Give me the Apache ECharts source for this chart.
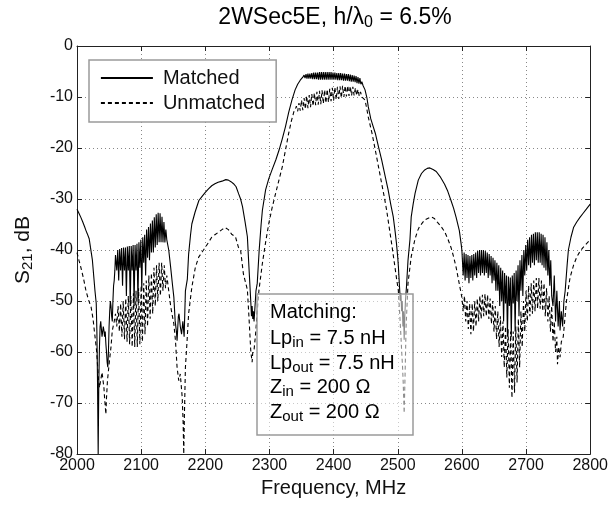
<!DOCTYPE html>
<html><head><meta charset="utf-8">
<script src="https://cdn.jsdelivr.net/npm/echarts@6/dist/echarts.min.js"></script>
<style>html,body{margin:0;padding:0;background:#fff}#c{width:611px;height:508px}</style>
</head><body><div id="c"></div>
<script>
const FONT = '"Liberation Sans", Arial, Helvetica, sans-serif';
const INK = '#111';

const xMin = 2000, xMax = 2800, xStep = 100;
const yMin = -80, yMax = 0, yStep = 10;
const seriesNames = ['Matched', 'Unmatched'];
const titleRich = '{b|2WSec5E, h/λ}{s|0}{b| = 6.5%}';
const yName = '{b|S}{s|21}{b|, dB}';
const xName = 'Frequency, MHz';
const noteLines = [
  '{b|Matching:}',
  '{b|Lp}{s|in}{b| = 7.5 nH}',
  '{b|Lp}{s|out}{b| = 7.5 nH}',
  '{b|Z}{s|in}{b| = 200 Ω}',
  '{b|Z}{s|out}{b| = 200 Ω}'
];

// [frequency MHz, S21 dB]
const matched = [
[2000,-32.0],[2003,-32.8],[2006,-33.6],[2009,-34.5],[2012,-35.5],[2014,-36.2],[2016,-36.8],[2019,-37.8],[2021,-39.5],[2024,-42],
[2026,-45],[2028,-48],[2030,-50.5],[2031,-56],[2032,-66],[2033,-80],[2034,-66],[2035,-59],[2036,-55],[2037,-54],
[2038,-55.5],[2039,-57],[2040,-56],[2041,-55],[2042,-55.8],[2043,-57],[2044,-56],[2045,-58.4],[2046,-60],[2047,-62],
[2048,-63],[2049,-60],[2050,-55],[2051,-52],[2052,-50],[2053,-51],[2054,-53],[2055,-54],[2056,-50],[2057,-47],
[2058,-46],[2059,-44],[2060,-41],
[2062,-44],[2063.5,-40],[2065,-46],[2066.5,-39.8],[2068,-44],[2069.5,-39.6],[2071,-47],[2072.5,-39.5],[2074,-44],[2075.5,-39.5],
[2077,-49],[2078.5,-39.3],[2080,-44],[2081.5,-39.2],[2083,-51],[2084.5,-39.2],[2086,-44],[2087.5,-39],[2089,-51],[2090.5,-39],
[2092,-44],[2093.5,-38.8],[2095,-50],[2096.5,-38.5],[2098,-43.5],[2099.5,-38],[2101,-48],[2102.5,-37.5],[2104,-42.5],[2105.5,-37],
[2107,-45],[2108.5,-36],[2110,-41.5],[2111.5,-35.5],[2113,-42],[2114.5,-34.8],[2116,-40.5],[2117.5,-34.2],[2119,-40.5],[2120.5,-33.6],
[2122,-39.5],[2123.5,-33],[2125,-39],[2126.5,-32.7],[2128,-38.5],[2129.5,-32.8],[2131,-38.5],[2132.5,-33.5],[2134,-38.5],[2135.5,-34.5],
[2137,-38.5],[2138.5,-36],[2140,-38],
[2143,-40],[2146,-43.4],[2149,-47],[2151,-49.3],[2153,-53.9],[2155,-56],[2156,-57.8],
[2158,-53],[2159,-52.5],[2161,-55],[2163,-56.5],[2165,-54],[2167,-57],[2169,-48],[2172,-45.7],[2174,-40.8],[2177,-37],
[2179,-34.9],[2184,-32.6],[2190,-30.3],[2195,-29.5],[2200,-28.7],[2205,-28],[2210,-27.4],[2215,-27],[2220,-26.7],[2226,-26.5],
[2232,-26.2],[2236,-26.3],[2240,-26.6],[2244,-27.0],[2248,-27.6],[2252,-29],[2255,-30],[2258,-31.5],[2262,-34.5],[2265.6,-37.4],
[2268,-43.3],[2270,-48],[2271,-50.4],[2272,-53],[2273,-51],[2274,-53.5],[2275,-52],[2276,-54],[2278,-50],[2279,-48],
[2281,-46.5],[2284,-40],[2287,-35],[2289,-32.2],[2294,-28.2],[2299,-26],[2304,-24.3],[2310,-22.3],[2315,-20.4],[2320,-18.2],
[2325,-15.8],[2330,-13],[2335,-10.6],[2340,-8.6],[2344,-7.5],[2348,-6.7],[2352,-6.1],
[2354,-5.7],[2355.5,-6.3],[2357,-5.5],[2358.5,-6.4],[2360,-5.4],[2361.5,-6.4],[2363,-5.4],[2364.5,-6.4],[2366,-5.3],[2367.5,-6.5],
[2369,-5.2],[2370.5,-6.5],[2372,-5.2],[2373.5,-6.5],[2375,-5.2],[2376.5,-6.6],[2378,-5.1],[2379.5,-6.6],[2381,-5.1],[2382.5,-6.6],
[2384,-5.1],[2385.5,-6.6],[2387,-5.1],[2388.5,-6.6],[2390,-5.1],[2391.5,-6.6],[2393,-5.1],[2394.5,-6.6],[2396,-5.1],[2397.5,-6.6],
[2399,-5.2],[2400.5,-6.6],[2402,-5.2],[2403.5,-6.6],[2405,-5.3],[2406.5,-6.7],[2408,-5.3],[2409.5,-6.7],[2411,-5.3],[2412.5,-6.7],
[2414,-5.4],[2415.5,-6.8],[2417,-5.4],[2418.5,-6.8],[2420,-5.5],[2421.5,-6.8],[2423,-5.5],[2424.5,-6.9],[2426,-5.6],[2427.5,-7.0],
[2429,-5.7],[2430.5,-7.0],[2432,-5.8],[2433.5,-7.1],[2435,-5.9],[2436.5,-7.3],[2438,-6.1],[2439.5,-7.4],[2441,-6.3],[2442.5,-7.5],
[2444,-7.0],[2446,-7.8],[2449,-8.6],[2452,-10.2],[2454,-11.9],[2458,-14.3],[2461,-15.5],[2465,-17.1],
[2470,-19.8],[2475,-22.4],[2480,-25.3],[2485,-28.2],[2489,-31],[2493,-33.5],[2496,-36.5],[2498,-38.7],[2500,-41.5],[2501,-43.3],
[2503,-47.8],[2504,-50],[2505,-48.5],[2506,-52],[2507,-50],[2508,-55],[2509,-52],[2510,-57.6],[2511,-53],[2512,-50],
[2513.6,-47.2],[2516,-42],[2519,-38],[2521,-33.5],[2524,-31],[2527,-28.9],[2532,-26.3],[2537,-25],[2542,-24.3],[2546,-24.0],
[2550,-23.9],[2555,-24.2],[2560,-24.6],[2566,-25.6],[2573,-27.1],[2578,-28.5],[2583,-30.3],[2587,-31.8],[2591,-33.6],[2596,-36.2],
[2599,-39],[2600,-40.1],
[2602,-45],[2603.5,-40.5],[2605,-46],[2606.5,-40.8],[2608,-45.5],[2609.5,-41],[2611,-46.5],[2612.5,-41.2],[2614,-45.5],[2615.5,-41],
[2617,-46],[2618.5,-40.8],[2620,-45],[2621.5,-40.5],[2623,-45.5],[2624.5,-40.2],[2626,-44.5],[2627.5,-40],[2629,-45],[2630.5,-40],
[2632,-44.5],[2633.5,-40],[2635,-45],[2636.5,-40.2],[2638,-44.5],[2639.5,-40.5],[2641,-45.5],[2642.5,-40.8],[2644,-45],[2645.5,-41.2],
[2647,-46.5],[2648.5,-41.5],[2650,-46],[2651.5,-42],[2653,-48],[2654.5,-42.5],[2656,-48],[2657.5,-43],[2659,-51],[2660.5,-43.5],
[2662,-50],[2663.5,-44],[2665,-54],[2666.5,-44.5],[2668,-50.5],[2669.5,-45],[2671,-57],[2672.5,-45.2],[2674,-51],[2675.5,-45.4],
[2677,-57],[2678.5,-45],[2680,-50.5],[2681.5,-44.5],[2683,-56],[2684.5,-44],[2686,-50],[2687.5,-43],[2689,-53],[2690.5,-42],
[2692,-48],[2693.5,-41],[2695,-49],[2696.5,-40],[2698,-45],[2699.5,-39],[2701,-44],[2702.5,-38],[2704,-43],[2705.5,-37.5],
[2707,-43.5],[2708.5,-37],[2710,-42.5],[2711.5,-36.8],[2713,-43],[2714.5,-36.5],[2716,-42],[2717.5,-36.5],[2719,-42.5],[2720.5,-36.5],
[2722,-42.5],[2723.5,-36.8],[2725,-43],[2726.5,-37],[2728,-43.5],[2729.5,-37.5],[2731,-44],[2732.5,-38.5],[2734,-45],[2735.5,-40],
[2737,-47],[2738.5,-42],[2740,-49],
[2742,-51],[2744,-45],[2746,-54],[2748,-48],[2750,-55],[2752,-50],[2753,-55.8],[2755,-52],
[2757,-55],[2759,-50],[2761,-48],[2764,-43],[2766,-40],[2770,-37.5],[2774,-35.6],[2779,-34.5],[2784,-33.6],[2789,-32.8],
[2794,-32],[2800,-31]
];

const unmatched = [
[2000,-40.5],[2003,-42],[2006,-43.4],[2010,-45.5],[2014,-48],[2018,-49.8],[2022,-51.2],[2025,-53.5],[2027,-55.8],[2029,-58],
[2030.5,-59.7],[2032,-62.5],[2033.6,-65.6],[2035,-67],[2037,-67],[2039,-64],[2040,-65],[2041,-66],[2042,-67],[2043,-69],
[2045,-72.2],[2046,-69],[2047.5,-65.6],[2050,-62.4],[2053,-59],[2055,-55.8],[2058,-54],[2060,-52.5],[2062,-55],[2064,-51],
[2066,-56],[2068,-50.5],[2070,-57],[2072,-50],[2074,-57.5],[2076,-49.5],[2078,-58],[2080,-49],[2082,-58.5],[2084,-49],
[2086,-59],[2088,-48.5],[2090,-59],[2092,-48],[2094,-59],[2096,-47.5],[2098,-58.5],[2100,-47],[2102,-58],[2104,-46.5],
[2106,-56.5],[2108,-46],[2110,-55],[2112,-45],[2114,-53.5],[2116,-44.5],[2118,-52.5],[2120,-43.5],[2122,-51],[2124,-43],
[2126,-50],[2128,-42.5],[2130,-49],[2132,-42.5],[2134,-48],[2136,-43],[2138,-47.5],[2140,-45],[2143,-48],[2146,-51],
[2148,-52.5],[2151,-54.5],[2153.5,-57.8],[2156,-63],[2158.6,-65.6],[2161,-64.3],[2164,-68.9],[2165.5,-74],[2166.4,-80],[2167.5,-72],
[2169,-63],[2171.6,-57.8],[2174,-52.5],[2179,-47.3],[2184.5,-43.4],[2189.7,-41.4],[2195,-40.4],[2200,-39.5],[2205,-38.5],[2210,-37.5],
[2215,-37],[2220.7,-36.5],[2226,-36],[2231,-35.6],[2236,-36],[2241,-36.9],[2247,-37.4],[2251.7,-39.5],[2255,-40],[2259.4,-44.7],
[2262,-46],[2265.6,-47.8],[2268,-53],[2270.8,-59.6],[2272,-61],[2273,-62],[2274,-60],[2276,-59.6],[2278.5,-56.3],[2281,-52],
[2283.7,-47.8],[2289,-42.6],[2294,-38.5],[2299,-34.8],[2304,-31.8],[2309.6,-28.9],[2315,-26.2],[2320,-23.7],[2325,-20.4],[2330,-17.1],
[2334,-14.8],[2338,-12.9],[2340,-12.5],[2342,-11.8],[2344,-12.8],[2346,-11.2],[2348,-12.7],[2350,-10.6],[2352,-12.6],[2354,-10.2],
[2356,-12.4],[2358,-9.8],[2360,-12.2],[2362,-9.6],[2364,-12.0],[2366,-9.4],[2368,-11.8],[2370,-9.2],[2372,-11.6],[2374,-9.0],
[2376,-11.5],[2378,-8.8],[2380,-11.4],[2382,-8.7],[2384,-11.3],[2386,-8.6],[2388,-11.2],[2390,-8.5],[2392,-11.0],[2394,-8.4],
[2396,-10.8],[2398,-8.2],[2400,-10.7],[2402,-8.1],[2404,-10.5],[2406,-8.0],[2408,-10.4],[2410,-7.9],[2412,-10.2],[2414,-7.8],
[2416,-10.0],[2418,-7.8],[2420,-9.9],[2422,-7.8],[2424,-9.8],[2426,-7.9],[2428,-9.7],[2430,-8.0],[2432,-9.7],[2434,-8.2],
[2436,-9.7],[2438,-8.5],[2440,-9.8],[2442,-9.0],[2444,-10.0],[2446,-10.2],[2449,-10.6],[2452,-12.5],[2454,-13.9],[2460,-17.2],
[2465,-20.4],[2470,-23.7],[2475,-27],[2479,-29.6],[2482.7,-32.2],[2486,-35],[2490.4,-38.7],[2493,-41],[2495.6,-43.3],[2498,-45.5],
[2500.8,-47.8],[2503.3,-53],[2505,-57],[2506,-59.6],[2507.5,-63],[2508.5,-66],[2510,-72],[2511.5,-64],[2513,-55],[2516,-46.5],
[2521,-41.3],[2526.6,-38],[2531,-36.2],[2534,-35.4],[2542,-34.1],[2552,-33.5],[2557,-33.8],[2562,-34.6],[2567,-35.3],[2573,-36.4],
[2578,-37.8],[2583,-39.5],[2587,-41.3],[2591,-43.4],[2596,-46.7],[2600,-49.3],[2602,-52],[2604,-49],[2606,-54],[2608,-50],
[2610,-55.5],[2612,-50.5],[2614,-56.5],[2616,-50.5],[2618,-56],[2620,-50],[2622,-55],[2624,-49.5],[2626,-54],[2628,-49],
[2630,-53.5],[2632,-48.8],[2634,-53],[2636,-48.6],[2638,-53],[2640,-48.8],[2642,-53.5],[2644,-49.5],[2646,-54.5],[2648,-50],
[2650,-56],[2652,-51],[2654,-57.5],[2656,-52],[2658,-59],[2660,-53],[2662,-61],[2664,-54],[2666,-63],[2668,-55],
[2670,-65],[2672,-55.5],[2674,-67],[2676,-56],[2678,-69],[2680,-56],[2682,-68],[2684,-55],[2686,-66],[2688,-53.5],
[2690,-63],[2692,-52],[2694,-59],[2696,-50],[2698,-56],[2700,-48],[2702,-54],[2704,-47],[2706,-53],[2708,-46.5],
[2710,-52.5],[2712,-46],[2714,-52],[2716,-45.5],[2718,-51.5],[2720,-45.5],[2722,-51.5],[2724,-46],[2726,-52],[2728,-46.5],
[2730,-53],[2732,-47.5],[2734,-54],[2736,-49],[2738,-56],[2740,-51],[2742,-58],[2744,-54],[2746,-60],[2748,-57],
[2749,-62.4],[2751,-59],[2753,-61],[2755,-58],[2758,-57],[2763,-50],[2768.6,-45.4],[2774,-43],[2779,-41.4],[2784,-40.3],
[2789,-39.5],[2794,-38.8],[2800,-38]
];

const chart = echarts.init(document.getElementById('c'), null, {renderer: 'canvas'});

const axisLineStyle = {color: '#222', width: 1};
const tickStyle = {show: true, inside: true, length: 5, lineStyle: {color: '#222', width: 1}};
const gridLine = {show: true, lineStyle: {color: '#888', width: 1, type: [1, 3]}};
const plainNum = v => String(v);
const richBase = (fs, sfs, lh) => ({
  b: {fontSize: fs, fontFamily: FONT, color: INK, lineHeight: lh},
  s: {fontSize: sfs, fontFamily: FONT, color: INK, lineHeight: sfs, verticalAlign: 'bottom'}
});

const noteGraphics = noteLines.map((t, i) => ({
  type: 'text',
  x: 270,
  y: [312.5, 338.5, 363, 387.5, 412][i],
  z: 101,
  style: {
    text: t,
    rich: richBase(20, 15, 24),
    align: 'left',
    verticalAlign: 'middle'
  }
}));

chart.setOption({
  animation: false,
  backgroundColor: '#fff',
  grid: {left: 77, right: 17, top: 46, bottom: 54, containLabel: false},
  legend: {
    data: seriesNames,
    orient: 'vertical',
    left: 89, top: 60,
    padding: [8, 11, 9, 11],
    itemGap: 5,
    itemWidth: 52, itemHeight: 14,
    backgroundColor: '#fff',
    borderColor: '#9a9a9a', borderWidth: 1.5,
    textStyle: {fontSize: 20, fontFamily: FONT, color: INK, padding: [0, 0, 0, 5]},
    itemStyle: {opacity: 0, borderWidth: 0},
    lineStyle: {width: 1.8, opacity: 1},
    selectedMode: false
  },
  xAxis: [{
    type: 'value', min: xMin, max: xMax, interval: xStep, position: 'bottom',
    name: xName, nameLocation: 'middle', nameGap: 24,
    nameTextStyle: {fontSize: 20, fontFamily: FONT, color: INK},
    axisLine: {show: true, onZero: false, lineStyle: axisLineStyle},
    axisTick: tickStyle,
    axisLabel: {fontSize: 16, fontFamily: FONT, color: INK, margin: 4, formatter: plainNum},
    splitLine: gridLine
  }, {
    type: 'value', min: xMin, max: xMax, interval: xStep, position: 'top',
    axisLine: {show: true, onZero: false, lineStyle: axisLineStyle},
    axisTick: tickStyle, axisLabel: {show: false}, splitLine: {show: false}
  }],
  yAxis: [{
    type: 'value', min: yMin, max: yMax, interval: yStep, position: 'left',
    name: yName, nameLocation: 'middle', nameGap: 42, nameRotate: 90,
    nameTextStyle: {rich: richBase(21, 15, 24)},
    axisLine: {show: true, onZero: false, lineStyle: axisLineStyle},
    axisTick: tickStyle,
    axisLabel: {fontSize: 16, fontFamily: FONT, color: INK, margin: 4, formatter: plainNum},
    splitLine: gridLine
  }, {
    type: 'value', min: yMin, max: yMax, interval: yStep, position: 'right',
    axisLine: {show: true, onZero: false, lineStyle: axisLineStyle},
    axisTick: tickStyle, axisLabel: {show: false}, splitLine: {show: false}
  }],
  series: [{
    name: seriesNames[0], type: 'line', data: matched,
    xAxisIndex: 0, yAxisIndex: 0,
    symbol: 'none', showSymbol: false,
    lineStyle: {color: '#000', width: 1.1}, itemStyle: {color: '#000'},
    z: 3
  }, {
    name: seriesNames[1], type: 'line', data: unmatched,
    xAxisIndex: 0, yAxisIndex: 0,
    symbol: 'none', showSymbol: false,
    lineStyle: {color: '#000', width: 1.1, type: [4, 3]}, itemStyle: {color: '#000'},
    z: 2
  }],
  graphic: [{
    type: 'text', x: 335, y: 18, z: 100,
    style: {text: titleRich, rich: richBase(23, 16, 26), align: 'center', verticalAlign: 'middle'}
  }, {
    type: 'rect', z: 100,
    shape: {x: 257, y: 294, width: 156, height: 141},
    style: {fill: 'rgba(255,255,255,0.55)', stroke: '#9a9a9a', lineWidth: 1.5}
  }].concat(noteGraphics)
});
</script>
</body></html>
